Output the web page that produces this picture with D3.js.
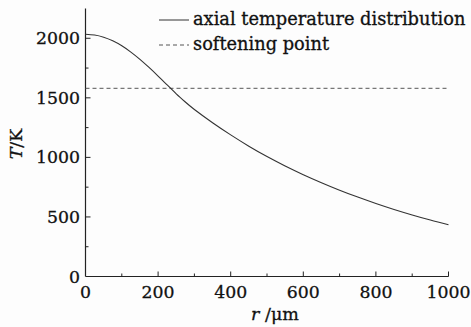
<!DOCTYPE html>
<html>
<head>
<meta charset="utf-8">
<script src="https://cdn.jsdelivr.net/npm/d3@7"></script>
<style>
  html, body { margin: 0; padding: 0; background: #fdfdfd; }
  svg { display: block; }
  text { font-family: "DejaVu Serif", serif; fill: #111; stroke: #111; stroke-width: 0.3px; }
</style>
</head>
<body>
<script>
// Radial position r (μm) and axial temperature T (K)
const radius = [0, 25, 50, 75, 100, 125, 150, 175, 200, 225, 250, 275, 300, 350, 400, 450, 500, 550, 600, 650, 700, 750, 800, 850, 900, 950, 1000];
const temperature = [2034, 2027, 2009, 1979, 1937, 1884, 1823, 1755, 1683, 1608, 1534, 1465, 1402, 1291, 1189, 1094, 1007, 928, 855, 788, 725, 667, 613, 563, 517, 474, 435];
const softeningPoint = 1580;
const xTicks = [0, 200, 400, 600, 800, 1000];
const yTicks = [0, 500, 1000, 1500, 2000];
const legendLabels = ["axial temperature distribution", "softening point"];

const W = 471, H = 327;
const svg = d3.select("body").append("svg").attr("width", W).attr("height", H);

const x = d3.scaleLinear().domain([0, 1000]).range([85.5, 448.5]);
const y = d3.scaleLinear().domain([0, 2250]).range([276.5, 8.5]);

const axisColor = "#222";
const g = svg.append("g");

// Axis lines
g.append("line").attr("x1", x(0)).attr("x2", x(0)).attr("y1", y(0)).attr("y2", y(2250))
  .attr("stroke", axisColor).attr("stroke-width", 1.2);
g.append("line").attr("x1", x(0)).attr("x2", x(1000)).attr("y1", y(0)).attr("y2", y(0))
  .attr("stroke", axisColor).attr("stroke-width", 1.2);

// Inward ticks: major with labels, minor between
const xMinor = d3.range(100, 1000, 200);
const yMinor = d3.range(250, 2250, 500);
g.selectAll(".xt").data(xTicks.filter(d => d > 0)).join("line")
  .attr("x1", d => x(d)).attr("x2", d => x(d)).attr("y1", y(0)).attr("y2", y(0) - 5)
  .attr("stroke", axisColor);
g.selectAll(".xm").data(xMinor).join("line")
  .attr("x1", d => x(d)).attr("x2", d => x(d)).attr("y1", y(0)).attr("y2", y(0) - 3)
  .attr("stroke", axisColor);
g.selectAll(".yt").data(yTicks.filter(d => d > 0)).join("line")
  .attr("x1", x(0)).attr("x2", x(0) + 5).attr("y1", d => y(d)).attr("y2", d => y(d))
  .attr("stroke", axisColor);
g.selectAll(".ym").data(yMinor).join("line")
  .attr("x1", x(0)).attr("x2", x(0) + 3).attr("y1", d => y(d)).attr("y2", d => y(d))
  .attr("stroke", axisColor);

// Tick labels
g.selectAll(".xl").data(xTicks).join("text")
  .attr("x", d => x(d)).attr("y", 298).attr("text-anchor", "middle")
  .attr("font-size", 17.3).text(d => d);
g.selectAll(".yl").data(yTicks).join("text")
  .attr("x", 80).attr("y", d => y(d) + 6).attr("text-anchor", "end")
  .attr("font-size", 17.3).text(d => d);

// Axis titles
const xt = g.append("text").attr("x", 275).attr("y", 320).attr("text-anchor", "middle").attr("font-size", 17.5);
xt.append("tspan").attr("font-style", "italic").text("r");
xt.append("tspan").text(" /μm");
const yt = g.append("text").attr("transform", "translate(22,144) rotate(-90)")
  .attr("text-anchor", "middle").attr("font-size", 17.5);
yt.append("tspan").attr("font-style", "italic").text("T");
yt.append("tspan").text("/K");

// Softening point
g.append("line").attr("x1", x(0)).attr("x2", x(1000))
  .attr("y1", y(softeningPoint)).attr("y2", y(softeningPoint))
  .attr("stroke", "#555").attr("stroke-width", 1).attr("stroke-dasharray", "4,3");

// Temperature curve
const line = d3.line().x((d, i) => x(radius[i])).y(d => y(d)).curve(d3.curveNatural);
g.append("path").datum(temperature).attr("d", line)
  .attr("fill", "none").attr("stroke", "#333").attr("stroke-width", 1.1);

// Legend
const legend = g.append("g");
legendLabels.forEach((label, i) => {
  const ly = 20 + i * 25;
  legend.append("line").attr("x1", 159).attr("x2", 189).attr("y1", ly).attr("y2", ly)
    .attr("stroke", i === 0 ? "#333" : "#555").attr("stroke-width", 1)
    .attr("stroke-dasharray", i === 0 ? null : "4,3");
  legend.append("text").attr("x", 193).attr("y", ly + 5).attr("font-size", 17.8).text(label);
});
</script>
</body>
</html>
